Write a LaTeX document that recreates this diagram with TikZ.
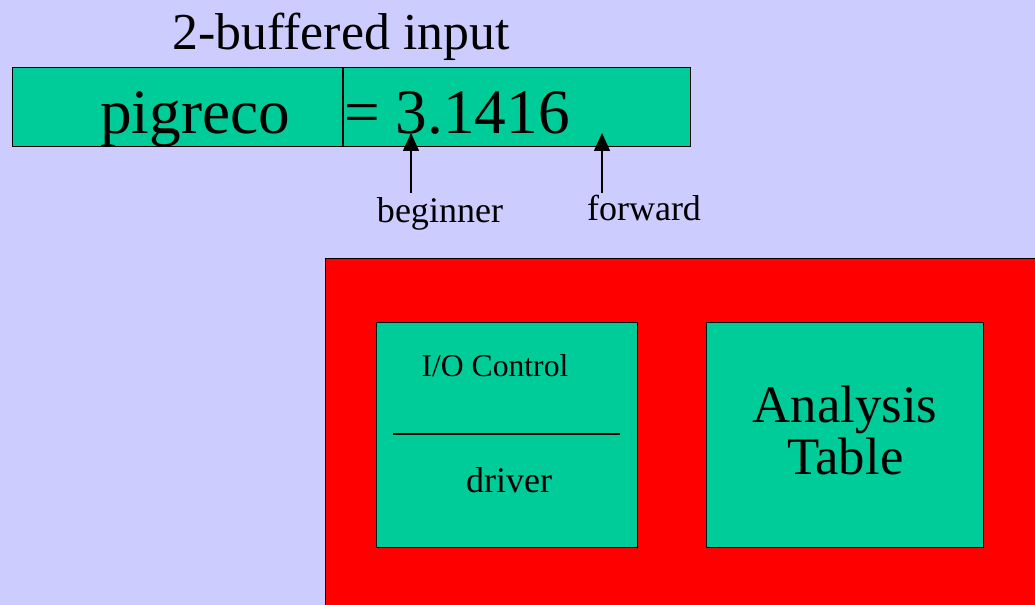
\documentclass[tikz,border=0pt]{standalone}
\usepackage{fontspec}
\setmainfont{Liberation Serif}
\usetikzlibrary{arrows.meta, positioning}
\definecolor{lavender}{HTML}{CCCCFF}
\definecolor{seagreen}{HTML}{00CC99}
\tikzset{
  cell/.style = {rectangle, draw, fill=seagreen, line width=0.6pt, anchor=north west, inner sep=0pt, minimum height=1.58cm},
  unit/.style = {rectangle, draw, fill=seagreen, line width=0.8pt, anchor=north west, align=center, inner sep=0pt, minimum height=4.5cm},
  word/.style = {anchor=base, inner sep=0pt},
  ptr/.style = {-{Triangle[length=0.36cm, width=0.32cm]}, line width=0.9pt}
}

\begin{document}
\begin{tikzpicture}[x=0.02cm, y=-0.02cm]
\path[use as bounding box, fill=lavender] (0,0) rectangle (1035,605);
\clip (0,0) rectangle (1035,605);

% two-half input buffer
\node[word, font=\fontsize{29.5}{29.5}\selectfont] (title) at (341,50) {2-buffered input};
\node[cell, minimum width=6.6cm] (lhalf) at (12,67) {};
\node[cell, minimum width=6.94cm, right=0pt of lhalf] (rhalf) {};
\node[word, font=\fontsize{36}{36}\selectfont] (lexeme) at (195,133) {pigreco};
\node[word, font=\fontsize{36}{36}\selectfont] (value) at (457,133) {= 3.1416};

% pointers
\node[word, font=\fontsize{20.5}{20.5}\selectfont] (beginner) at (440,222) {beginner};
\node[word, font=\fontsize{20.5}{20.5}\selectfont] (forward) at (644,220) {forward};
\coordinate (begtail) at (411,193);
\coordinate (begtip) at (411,133);
\coordinate (fwdtail) at (602,193);
\coordinate (fwdtip) at (602,133);
\draw[ptr] (begtail) -- (begtip);
\draw[ptr] (fwdtail) -- (fwdtip);

% scanner
\node[draw, fill=red, anchor=north west, minimum width=14.6cm, minimum height=7.2cm, inner sep=0pt, line width=0.6pt] (frame) at (325,258) {};
\node[unit, minimum width=5.22cm] (io) at (376,322) {};
\node[unit, minimum width=5.54cm, font=\fontsize{30}{29.6}\selectfont, text depth=0.2cm] (table) at (706,322) {Analysis\\Table};
\node[word, font=\fontsize{18}{18}\selectfont] (ioctl) at (495,376) {I/O Control};
\node[word, font=\fontsize{20.5}{20.5}\selectfont] (driver) at (509,492) {driver};
\draw[line width=1pt] (393,434) -- (620,434);

\end{tikzpicture}
\end{document}
